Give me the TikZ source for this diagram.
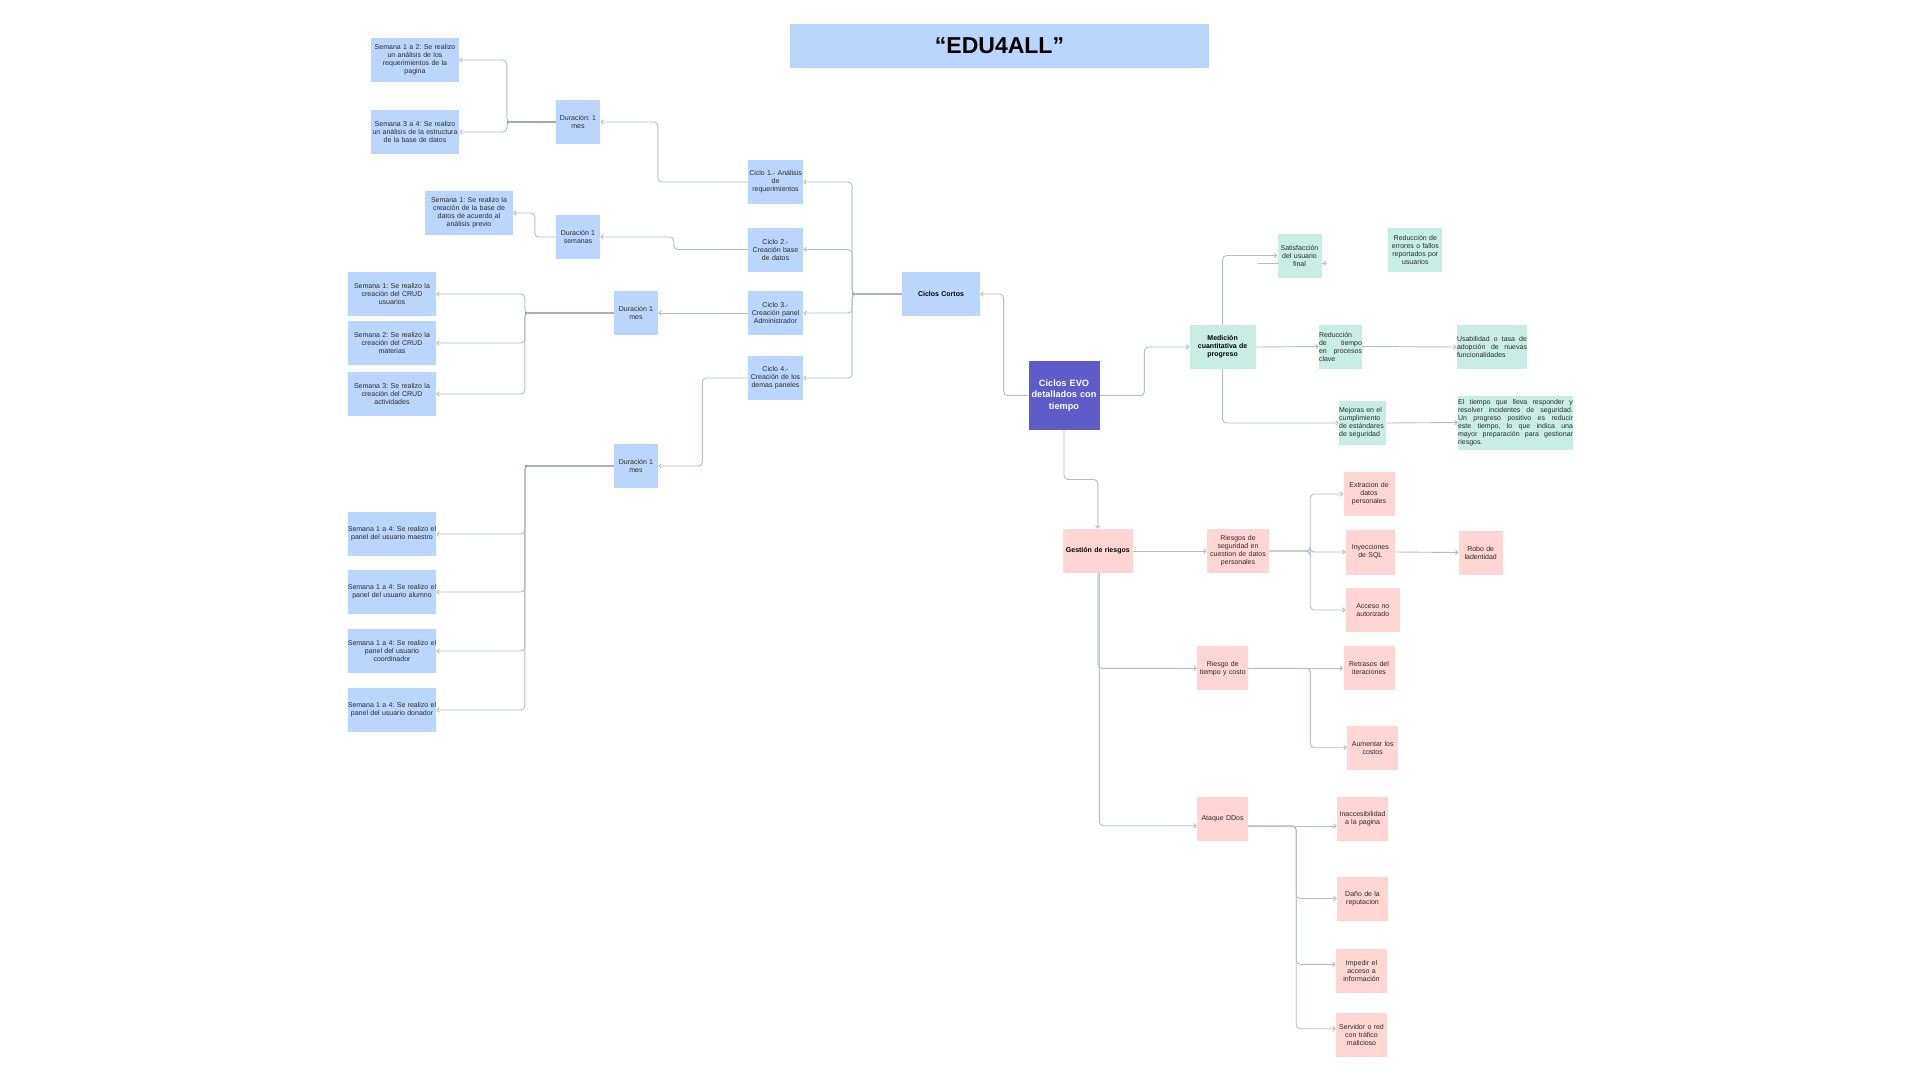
\documentclass[tikz,border=0pt]{standalone}
\usepackage{fontspec}
\setmainfont{Liberation Sans}
\usetikzlibrary{backgrounds, arrows.meta, positioning}
\definecolor{azul}{HTML}{BBD6FC}
\definecolor{verde}{HTML}{C8EDE3}
\definecolor{rosa}{HTML}{FFD6D3}
\definecolor{morado}{HTML}{5F5BC9}
\definecolor{linea}{HTML}{B4BEC8}
\definecolor{texto}{HTML}{2B2B2B}
\frenchspacing
\newcommand{\jline}[2]{\leavevmode\hbox to #1{#2}}
\newcommand{\semlinea}{\makebox[88pt]{Semana 1 a 4: Se realizo el}}
\tikzset{%
>={Straight Barb[length=2.5pt,width=4.5pt]},
  % Specifications for style of nodes:
            caja/.style = {rectangle, inner xsep=0pt, inner ysep=0pt,
                            minimum height=44pt, text=texto, align=center,
                            font=\fontsize{7}{8}\selectfont},
            azulbox/.style = {caja, fill=azul},
            verdebox/.style = {caja, fill=verde},
            rosabox/.style = {caja, fill=rosa},
            negrita/.style = {font=\fontsize{7}{8}\selectfont\bfseries, text=black},
            ancho/.style = {text width=#1, minimum width=#1},
            titulo/.style = {rectangle, fill=azul, minimum width=419pt, minimum height=44pt,
                            font=\fontsize{23}{26}\selectfont\bfseries},
            con/.style = {draw=linea, line width=0.9pt, rounded corners=4pt, ->},
            tronco/.style = {draw=linea!75!black, line width=1.5pt}
}
\begin{document}
\begin{tikzpicture}[x=1pt, y=-1pt]
\useasboundingbox (0,0) rectangle (1920,1080);

\node[titulo] (tit) at (999.5,45.8) {“EDU4ALL”};

% rama ciclos cortos
\node[azulbox, ancho=78pt, negrita] (cc) at (941,294) {Ciclos Cortos};
\node[azulbox, ancho=55pt] (c1) at (775.5,182) {Ciclo 1.- Análisis\\de\\requerimientos};
\node[azulbox, ancho=55pt] (c2) at (775.5,249.5) {Ciclo 2.-\\Creación base\\de datos};
\node[azulbox, ancho=55pt] (c3) at (775.5,313) {Ciclo 3.-\\Creación panel\\Administrador};
\node[azulbox, ancho=55pt] (c4) at (775.5,378) {Ciclo 4.-\\Creación de los\\demas paneles};
\node[azulbox, ancho=44pt] (d1) at (578,122) {Duración: 1\\mes};
\node[azulbox, ancho=44pt] (d2) at (578,237) {Duración 1\\semanas};
\node[azulbox, ancho=44pt] (d3) at (636,313) {Duración 1\\mes};
\node[azulbox, ancho=44pt] (d4) at (636,466) {Duración 1\\mes};
\node[azulbox, ancho=88pt] (s12) at (415,60) {Semana 1 a 2: Se realizo\\un análisis de los\\requerimientos de la\\pagina};
\node[azulbox, ancho=88pt] (s34) at (415,132) {Semana 3 a 4: Se realizo\\un análisis de la estructura\\de la base de datos};
\node[azulbox, ancho=88pt] (sbd) at (469,213) {Semana 1: Se realizo la\\creación de la base de\\datos de acuerdo al\\análisis previo};
\node[azulbox, ancho=88pt] (cu) at (392,294) {Semana 1: Se realizo la\\creación del CRUD\\usuarios};
\node[azulbox, ancho=88pt] (cm) at (392,343) {Semana 2: Se realizo la\\creación del CRUD\\materias};
\node[azulbox, ancho=88pt] (ca) at (392,394) {Semana 3: Se realizo la\\creación del CRUD\\actividades};
\node[azulbox, ancho=88pt] (pm) at (392,534) {\semlinea\\panel del usuario maestro};
\node[azulbox, ancho=88pt] (pa) at (392,592) {\semlinea\\panel del usuario alumno};
\node[azulbox, ancho=88pt] (pc) at (392,651) {\semlinea\\panel del usuario\\coordinador};
\node[azulbox, ancho=88pt] (pd) at (392,710) {\semlinea\\panel del usuario donador};

% nodo central
\node[caja, fill=morado, ancho=71pt, minimum height=69pt, text=white,
      font=\fontsize{9.2}{11.5}\selectfont\bfseries] (evo) at (1064,395.5) {Ciclos EVO\\detallados con\\tiempo};

% rama medicion
\node[verdebox, ancho=66pt, negrita] (med) at (1222.6,347) {Medición\\cuantitativa de\\progreso};
\node[verdebox, ancho=44pt] (sat) at (1299.5,255.5) {Satisfacción\\del usuario\\final};
\node[verdebox, ancho=54pt] (rerr) at (1415.3,249.5) {Reducción de\\errores o fallos\\reportados por\\usuarios};
\node[verdebox, ancho=43pt, align=left] (rtie) at (1340.5,346.5) {Reducción\\\jline{43pt}{de\hfil tiempo}\\\jline{43pt}{en\hfil procesos}\\clave};
\node[verdebox, ancho=70pt, align=left] (usab) at (1492,347) {\jline{70pt}{Usabilidad\hfil o\hfil tasa\hfil de}\\\jline{70pt}{adopción\hfil de\hfil nuevas}\\funcionalidades};
\node[verdebox, ancho=47pt, align=left] (mej) at (1362.6,423) {Mejoras en el\\cumplimiento\\de estándares\\de seguridad};
\node[verdebox, ancho=115pt, minimum height=54pt, align=left] (etie) at (1515.5,422.5) {%
  \jline{115pt}{El\hfil tiempo\hfil que\hfil lleva\hfil responder\hfil y}\\
  \jline{115pt}{resolver\hfil incidentes\hfil de\hfil seguridad.}\\
  \jline{115pt}{Un\hfil progreso\hfil positivo\hfil es\hfil reducir}\\
  \jline{115pt}{este\hfil tiempo,\hfil lo\hfil que\hfil indica\hfil una}\\
  \jline{115pt}{mayor\hfil preparación\hfil para\hfil gestionar}\\
  riesgos.};

% rama riesgos
\node[rosabox, ancho=70pt, negrita] (ges) at (1097.8,551) {Gestión de riesgos};
\node[rosabox, ancho=62pt] (rseg) at (1238,551) {Riesgos de\\seguridad en\\cuestion de datos\\personales};
\node[rosabox, ancho=51pt] (ext) at (1369,494) {Extracion de\\datos\\personales};
\node[rosabox, ancho=49pt, minimum height=45pt] (iny) at (1370.3,552) {Inyecciones\\de SQL};
\node[rosabox, ancho=44pt] (robo) at (1480.7,552.5) {Robo de\\ladentidad};
\node[rosabox, ancho=54pt] (acc) at (1372.8,610) {Acceso no\\autorizado};
\node[rosabox, ancho=51pt] (rtc) at (1222.7,668.3) {Riesgo de\\tiempo y costo};
\node[rosabox, ancho=51pt] (retr) at (1369,668.3) {Retrasos del\\iteraciones};
\node[rosabox, ancho=51pt] (aum) at (1372.7,747.7) {Aumentar los\\costos};
\node[rosabox, ancho=51pt] (ddos) at (1222.5,819) {Ataque DDos};
\node[rosabox, ancho=51pt] (inac) at (1362.5,819) {Inaccesibilidad\\a la pagina};
\node[rosabox, ancho=51pt] (dano) at (1362.5,898.5) {Daño de la\\reputacion};
\node[rosabox, ancho=51pt] (imp) at (1361.5,971.3) {Impedir el\\acceso a\\información};
\node[rosabox, ancho=51pt] (serv) at (1361.5,1034.7) {Servidor o red\\con tráfico\\malicioso};

\coordinate (satA) at (1258,263);
\coordinate (satB) at (1327,263);

\begin{scope}[on background layer]
\fill[white] (0,0) rectangle (1920,1080);
% conectores izquierda
\draw[con] (evo.west) -- ++(-24.7,0) |- (cc.east);
\draw[tronco] (cc.west) -- ++(-49.7,0);
\foreach \c in {c1,c2,c3,c4}
  \draw[con] (cc.west) -- ++(-49.7,0) |- (\c.east);
\draw[con] (c1.west) -- ++(-90,0) |- (d1.east);
\draw[con] (c2.west) -- ++(-74,0) |- (d2.east);
\draw[con] (c3.west) -- (d3.east);
\draw[con] (c4.west) -- ++(-45.5,0) |- (d4.east);
\draw[tronco] (d1.west) -- ++(-49,0);
\foreach \s in {s12,s34}
  \draw[con] (d1.west) -- ++(-49,0) |- (\s.east);
\draw[con] (d2.west) -- ++(-21,0) |- (sbd.east);
\draw[tronco] (d3.west) -- ++(-89,0);
\foreach \s in {cu,cm,ca}
  \draw[con] (d3.west) -- ++(-89,0) |- (\s.east);
\draw[tronco] (d4.west) -- ++(-89,0);
\foreach \s in {pm,pa,pc,pd}
  \draw[con] (d4.west) -- ++(-89,0) |- (\s.east);
% conectores derecha
\draw[con] (evo.east) -- ++(44.7,0) |- (med.west);
\draw[con] (med.north) |- (sat.west);
\draw[con] (satA) -- (satB);
\draw[con] (med.east) -- (rtie.west);
\draw[con] (rtie.east) -- (usab.west);
\draw[con] (med.south) |- (mej.west);
\draw[con] (mej.east) -- (etie.west);
\draw[con] (evo.south) -- ++(0,49.3) -| (ges.north);
\draw[con] (ges.east) -- (rseg.west);
\foreach \r in {ext,iny,acc}
  \draw[con] (rseg.east) -- ++(41,0) |- (\r.west);
\draw[con] (iny.east) -- (robo.west);
\draw[con] (ges.south) |- (rtc.west);
\draw[con] ([xshift=1.5pt]ges.south) |- ([yshift=-6.7pt]ddos.west);
\draw[con] (rtc.east) -- (retr.west);
\draw[con] (rtc.east) -- ++(62,0) |- (aum.west);
\draw[con] ([yshift=-7pt]ddos.east) -- ([yshift=-7pt]inac.west);
\draw[con] ([yshift=-7pt]ddos.east) -- ++(48,0) |- (dano.west);
\draw[con] ([yshift=-7pt]ddos.east) -- ++(48,0) |- ([yshift=7pt]imp.west);
\draw[con] ([yshift=-7pt]ddos.east) -- ++(48,0) |- ([yshift=6pt]serv.west);
\end{scope}
\end{tikzpicture}
\end{document}
